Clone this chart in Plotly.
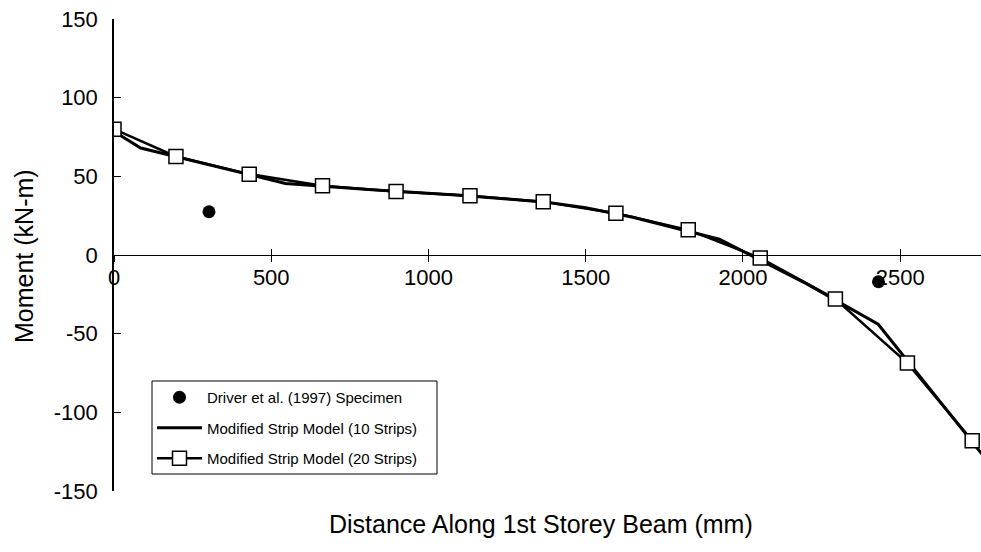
import plotly.graph_objects as go

# ---- data ----
driver_x = [302, 2431]
driver_y = [27.5, -17]

strip10_x = [0, 85, 270, 545, 820, 1100, 1375, 1500, 1650, 1925, 2200, 2430, 2790]
strip10_y = [78.5, 68, 59, 45.5, 41.5, 38, 33.6, 30, 24, 10, -18, -44, -134]

strip20_x = [0, 197, 430, 663, 897, 1132, 1365, 1596, 1826, 2055, 2294, 2523, 2729]
strip20_y = [80, 62.6, 51.4, 44, 40.4, 37.6, 33.8, 26.6, 16, -1.9, -28, -68.7, -118]

x_ticks = [0, 500, 1000, 1500, 2000, 2500]
y_ticks = [-150, -100, -50, 0, 50, 100, 150]

FONT = "Liberation Sans, Arial, sans-serif"
X_RANGE = [0, 2757]
Y_RANGE = [-150, 150]

# plot-area pixel geometry
L, T, W, H = 114, 19, 867, 472


def px(x):
    return (x - L) / W


def py(y):
    return (T + H - y) / H


fig = go.Figure()

fig.add_trace(go.Scatter(
    x=driver_x, y=driver_y, mode="markers",
    name="Driver et al. (1997) Specimen", legendgroup="a",
    marker=dict(symbol="circle", size=13, color="black"),
))
fig.add_trace(go.Scatter(
    x=strip10_x, y=strip10_y, mode="lines",
    name="Modified Strip Model (10 Strips)", legendgroup="b",
    line=dict(color="black", width=3),
))
fig.add_trace(go.Scatter(
    x=strip20_x, y=strip20_y, mode="lines+markers",
    name="Modified Strip Model (20 Strips)", legendgroup="c",
    line=dict(color="black", width=2.5),
    marker=dict(symbol="square", size=14, color="white",
                line=dict(color="black", width=1.5)),
))

fig.update_layout(
    width=981, height=552,
    paper_bgcolor="white", plot_bgcolor="white",
    margin=dict(l=L, r=981 - L - W, t=T, b=552 - T - H),
    font=dict(family=FONT, color="black", size=18),
    showlegend=True,
    legend=dict(
        x=px(152), y=py(381), xanchor="left", yanchor="top",
        bgcolor="rgba(0,0,0,0)", borderwidth=0,
        font=dict(family=FONT, size=15, color="black"),
        itemwidth=45, tracegroupgap=8,
    ),
    shapes=[
        dict(type="rect", xref="paper", yref="paper",
             x0=px(152), x1=px(437), y0=py(474), y1=py(381),
             line=dict(color="black", width=1), fillcolor="white", layer="above"),
    ],
    xaxis=dict(
        range=X_RANGE, showgrid=False, zeroline=False,
        tickvals=x_ticks, ticktext=[str(v) for v in x_ticks],
        ticks="outside", ticklen=6, tickwidth=1, tickcolor="black",
        showline=True, linecolor="black", linewidth=1,
        anchor="free", position=0.5,
        ticklabelstandoff=-3,
        tickfont=dict(family=FONT, size=22, color="black"),
    ),
    xaxis2=dict(
        range=X_RANGE, overlaying="x", showgrid=False, zeroline=False,
        tickvals=x_ticks, showticklabels=False,
        ticks="inside", ticklen=6, tickwidth=1, tickcolor="black",
        showline=False, anchor="free", position=0.5, side="bottom",
    ),
    yaxis=dict(
        range=Y_RANGE, showgrid=False, zeroline=False,
        tickvals=y_ticks, ticktext=[str(v) for v in y_ticks],
        ticks="inside", ticklen=7, tickwidth=1, tickcolor="black",
        showline=True, linecolor="black", linewidth=1.5,
        ticklabelstandoff=10,
        tickfont=dict(family=FONT, size=22, color="black"),
    ),
    annotations=[
        dict(text="Distance Along 1st Storey Beam (mm)", xref="paper", yref="paper",
             x=px(541), y=py(524), xanchor="center", yanchor="middle",
             showarrow=False, font=dict(family=FONT, size=25, color="black")),
        dict(text="Moment (kN-m)", xref="paper", yref="paper",
             x=px(24), y=py(256), xanchor="center", yanchor="middle",
             textangle=-90, showarrow=False, font=dict(family=FONT, size=25, color="black")),
    ],
)

# invisible trace to activate xaxis2 (cross ticks)
fig.add_trace(go.Scatter(x=[None], y=[None], xaxis="x2", showlegend=False, hoverinfo="skip"))

fig.write_html("out.html", config={"displayModeBar": False},
               post_script="document.body.style.margin='0';")
